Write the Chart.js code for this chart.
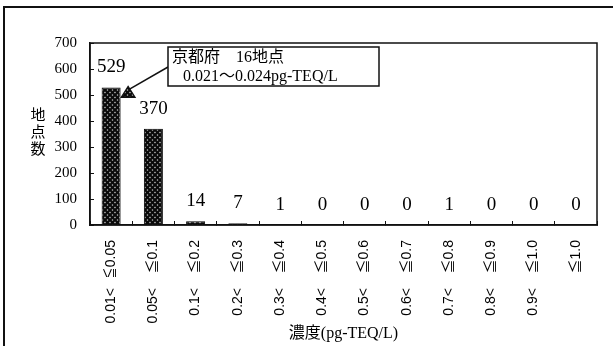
<!DOCTYPE html>
<html>
<head>
<meta charset="utf-8">
<script src="https://cdn.jsdelivr.net/npm/chart.js@4.4.0/dist/chart.umd.min.js"></script>
<style>
  body { margin: 0; background: #fff; }
  #wrap { position: relative; width: 613px; height: 346px; }
  #frame { position: absolute; left: 3px; top: 6px; right: 0; bottom: 0; border-top: 2px solid #111; border-left: 2px solid #111; }
  canvas { position: absolute; left: 0; top: 0; }
</style>
</head>
<body>
<div id="wrap">
  <div id="frame"></div>
  <canvas id="grafica" width="613" height="346"></canvas>
</div>
<script>
// Datos
const rangoSuperior = ["≦0.05", "≦0.1", "≦0.2", "≦0.3", "≦0.4", "≦0.5", "≦0.6", "≦0.7", "≦0.8", "≦0.9", "≦1.0", "≦1.0"];
const rangoInferior = ["0.01<", "0.05<", "0.1<", "0.2<", "0.3<", "0.4<", "0.5<", "0.6<", "0.7<", "0.8<", "0.9<", ""];
const numeroPuntos = [529, 370, 14, 7, 1, 0, 0, 0, 1, 0, 0, 0];
const tituloY = ["地", "点", "数"];
const tituloX = "濃度(pg-TEQ/L)";
const notaTexto = ["京都府　16地点", "0.021～0.024pg-TEQ/L"];
const notaValor = 510;

const serif = "'Liberation Serif', 'Noto Sans CJK JP', serif";
const sans = "'Liberation Sans', 'Noto Sans CJK JP', sans-serif";

// Trama de rombos para las barras
function crearTrama() {
  const c = document.createElement("canvas");
  c.width = 5; c.height = 5;
  const g = c.getContext("2d");
  g.fillStyle = "#b8b8b8";
  g.fillRect(0, 0, 5, 5);
  g.strokeStyle = "#0a0a0a";
  g.lineWidth = 2.2;
  g.beginPath();
  g.moveTo(-1, -1); g.lineTo(6, 6);
  g.moveTo(6, -1); g.lineTo(-1, 6);
  g.stroke();
  return g.createPattern(c, "repeat");
}
const trama = crearTrama();

// Etiquetas, marco y nota
const extras = {
  id: "extras",
  afterDatasetsDraw(chart) {
    const ctx = chart.ctx;
    const area = chart.chartArea;
    const xs = chart.scales.x;
    const ys = chart.scales.y;
    ctx.save();

    // marco del área
    ctx.strokeStyle = "#111";
    ctx.lineWidth = 1.5;
    ctx.strokeRect(area.left, area.top, area.right - area.left, area.bottom - area.top);

    // valores sobre las barras
    ctx.fillStyle = "#000";
    ctx.font = "19px " + serif;
    ctx.textAlign = "center";
    ctx.textBaseline = "middle";
    chart.getDatasetMeta(0).data.forEach((bar, i) => {
      ctx.fillText(numeroPuntos[i], bar.x, bar.y - 20);
    });

    // título eje Y vertical
    ctx.font = "15px " + serif;
    tituloY.forEach((ch, i) => {
      ctx.fillText(ch, area.left - 52, 116 + i * 17);
    });

    // nota con flecha
    const px = xs.getPixelForValue(0) + 17;
    const py = ys.getPixelForValue(notaValor);
    const bx = area.left + 78, by = area.top + 4, bw = 211, bh = 39;
    ctx.lineWidth = 1.5;
    ctx.beginPath();
    ctx.moveTo(bx, by + 20);
    ctx.lineTo(px + 1, py - 3);
    ctx.stroke();
    ctx.fillStyle = "#fff";
    ctx.fillRect(bx, by, bw, bh);
    ctx.strokeRect(bx, by, bw, bh);
    ctx.fillStyle = "#000";
    ctx.font = "16px " + serif;
    ctx.textAlign = "left";
    ctx.fillText(notaTexto[0], bx + 4, by + 11);
    ctx.fillText(notaTexto[1], bx + 15, by + 30);

    ctx.beginPath();
    ctx.moveTo(px, py - 6);
    ctx.lineTo(px + 7, py + 5);
    ctx.lineTo(px - 7, py + 5);
    ctx.closePath();
    ctx.fillStyle = trama;
    ctx.fill();
    ctx.lineWidth = 1.2;
    ctx.stroke();
    ctx.restore();
  }
};

new Chart(document.getElementById("grafica").getContext("2d"), {
  type: "bar",
  data: {
    labels: rangoSuperior,
    datasets: [{
      label: "地点数",
      data: numeroPuntos,
      backgroundColor: trama,
      borderColor: "#000",
      borderWidth: 1,
      barPercentage: 0.45,
      categoryPercentage: 1
    }]
  },
  options: {
    responsive: false,
    animation: false,
    layout: { padding: { left: 0, right: 16, top: 43, bottom: 0 } },
    plugins: {
      legend: { display: false },
      tooltip: { enabled: false }
    },
    scales: {
      x: {
        position: "bottom",
        offset: true,
        grid: { display: true, drawOnChartArea: false, offset: true, tickLength: -4, color: "#111" },
        border: { color: "#111", width: 1.5 },
        ticks: { minRotation: 90, maxRotation: 90, padding: 19, autoSkip: false, color: "#000", font: { family: sans, size: 14 } },
        afterFit: s => { s.height = 52; }
      },
      x2: {
        type: "category",
        position: "bottom",
        labels: rangoInferior,
        offset: true,
        grid: { display: false, drawTicks: false },
        border: { display: false },
        ticks: { minRotation: 90, maxRotation: 90, padding: 11, autoSkip: false, color: "#000", font: { family: sans, size: 14 } },
        title: { display: true, text: tituloX, color: "#000", font: { family: serif, size: 16 }, padding: { top: 0, bottom: 3 } },
        afterFit: s => { s.height = 69; }
      },
      y: {
        min: 0,
        max: 700,
        ticks: { stepSize: 100, padding: 17, color: "#000", font: { family: serif, size: 15 } },
        grid: { drawOnChartArea: false, tickLength: -4, color: "#111" },
        border: { color: "#111", width: 1.5 },
        afterFit: s => { s.width = 90; }
      }
    }
  },
  plugins: [extras]
});
</script>
</body>
</html>
